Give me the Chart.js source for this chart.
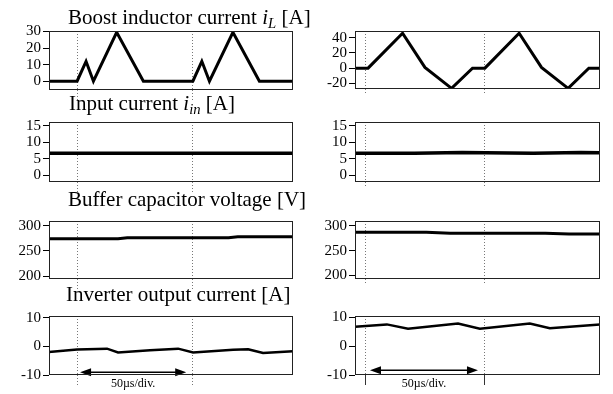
<!DOCTYPE html>
<html>
<head>
<meta charset="utf-8">
<script src="https://cdn.jsdelivr.net/npm/chart.js@4.4.0/dist/chart.umd.min.js"></script>
<style>
  body { margin: 0; background: #fff; width: 613px; height: 394px; overflow: hidden; position: relative; font-family: "Liberation Serif", serif; }
  canvas { position: absolute; }
  .titulo { position: absolute; font-size: 21px; line-height: 21px; white-space: nowrap; color: #000; }
  .titulo sub { font-size: 0.7em; vertical-align: -0.25em; line-height: 0; }
</style>
</head>
<body>
<canvas id="g1e"></canvas><canvas id="g1d"></canvas>
<canvas id="g2e"></canvas><canvas id="g2d"></canvas>
<canvas id="g3e"></canvas><canvas id="g3d"></canvas>
<canvas id="g4e"></canvas><canvas id="g4d"></canvas>

<div class="titulo" style="left:68px;top:7px">Boost inductor current <i>i<sub>L</sub></i> [A]</div>
<div class="titulo" style="left:69px;top:93px">Input current <i>i<sub>in</sub></i> [A]</div>
<div class="titulo" style="left:68px;top:189px">Buffer capacitor voltage [V]</div>
<div class="titulo" style="left:66px;top:284px">Inverter output current [A]</div>

<script>
// tempo em µs
const boostEsqT = [0, 12.2, 16.1, 19.3, 29.4, 41, 62.5, 66.4, 69.7, 79.9, 91.4, 106];
const boostEsqI = [0, 0, 12, 0, 29.5, 0, 0, 12, 0, 29.5, 0, 0];
const boostDirT = [0, 5.5, 20, 29.4, 40.6, 49.4, 54.6, 69, 78.4, 89.6, 98.3, 103];
const boostDirI = [0, 0, 46, 1, -26.6, 0, 0, 46, 1, -26.6, 0, 0];

const entradaEsqT = [0, 30, 60, 106];
const entradaEsqI = [6.7, 6.7, 6.7, 6.7];
const entradaDirT = [0, 25, 45, 75, 95, 103];
const entradaDirI = [6.7, 6.7, 6.9, 6.7, 6.9, 6.8];

const bufferEsqT = [0, 30, 34, 78, 82, 106];
const bufferEsqV = [274, 274, 276, 276, 278, 278];
const bufferDirT = [0, 30, 40, 80, 90, 103];
const bufferDirV = [287.5, 287.5, 285.5, 285.5, 284, 284];

const inversorEsqT = [0, 12.2, 25.2, 30, 43.9, 56.1, 62.6, 80, 86.5, 93, 106];
const inversorEsqI = [-2, -1.1, -0.8, -2.1, -1.4, -0.8, -2.1, -1.2, -1, -2.3, -1.7];
const inversorDirT = [0, 13.4, 22.3, 43.3, 52.5, 73.5, 81.9, 103];
const inversorDirI = [6.7, 7.5, 6, 7.8, 6, 7.8, 6.2, 7.5];

// ticks dos eixos
const ticksBoostEsq = [0, 10, 20, 30];
const ticksBoostDir = [-20, 0, 20, 40];
const ticksEntrada = [0, 5, 10, 15];
const ticksBuffer = [200, 250, 300];
const ticksInversor = [-10, 0, 10];

// linhas pontilhadas (divisões de 50µs)
const divisoesEsq = [12.2, 62.2];
const divisoesDir = [4.6, 54.6];
const setaEsq = [13.5, 59.6];
const setaDir = [6.3, 51.7];
const textoSeta = '50µs/div.';

// Moldura em volta da área do gráfico
const molduraPlugin = {
  id: 'moldura',
  afterDraw(chart) {
    const a = chart.chartArea;
    const ctx = chart.ctx;
    ctx.save();
    ctx.strokeStyle = '#222';
    ctx.lineWidth = 1;
    const l = Math.round(a.left) + 0.5, t = Math.round(a.top) + 0.5;
    const r = Math.round(a.right) - 0.5, b = Math.round(a.bottom) - 0.5;
    ctx.strokeRect(l, t, r - l, b - t);
    ctx.restore();
  }
};

// Seta de escala de tempo
const setaPlugin = {
  id: 'seta',
  afterDatasetsDraw(chart, args, opts) {
    if (!opts || !opts.de) return;
    const xs = chart.scales.x, ys = chart.scales.y;
    const x1 = xs.getPixelForValue(opts.de[0]);
    const x2 = xs.getPixelForValue(opts.de[1]);
    const y = ys.getPixelForValue(opts.y);
    const ctx = chart.ctx;
    ctx.save();
    ctx.strokeStyle = '#000';
    ctx.fillStyle = '#000';
    ctx.lineWidth = 1.5;
    ctx.beginPath();
    ctx.moveTo(x1 + 8, y);
    ctx.lineTo(x2 - 8, y);
    ctx.stroke();
    ctx.beginPath();
    ctx.moveTo(x1, y); ctx.lineTo(x1 + 11, y - 4); ctx.lineTo(x1 + 11, y + 4); ctx.closePath();
    ctx.moveTo(x2, y); ctx.lineTo(x2 - 11, y - 4); ctx.lineTo(x2 - 11, y + 4); ctx.closePath();
    ctx.fill();
    ctx.font = '12px "Liberation Serif"';
    ctx.textAlign = 'center';
    ctx.textBaseline = 'top';
    ctx.fillText(opts.texto, (x1 + x2) / 2, chart.chartArea.bottom + 3);
    ctx.restore();
  }
};

function criarGrafico(id, c) {
  const canvas = document.getElementById(id);
  const padTopo = 8;
  const alturaX = c.alturaX || 14;
  canvas.width = 300;
  canvas.height = padTopo + c.altura + alturaX;
  canvas.style.left = c.esq + 'px';
  canvas.style.top = (c.topo - padTopo) + 'px';

  return new Chart(canvas.getContext('2d'), {
    type: 'line',
    data: {
      datasets: [{
        data: c.t.map((t, i) => ({ x: t, y: c.v[i] })),
        borderColor: '#000',
        borderWidth: c.espessura || 3,
        pointRadius: 0,
        tension: 0,
        fill: false
      }]
    },
    options: {
      responsive: false,
      animation: false,
      events: [],
      layout: { padding: { top: padTopo, right: c.padDir, bottom: 0, left: 0 } },
      plugins: {
        legend: { display: false },
        tooltip: { enabled: false },
        seta: c.seta || {}
      },
      scales: {
        x: {
          type: 'linear',
          min: 0,
          max: c.tMax,
          afterBuildTicks: s => { s.ticks = c.divisoes.map(v => ({ value: v })); },
          afterFit: s => { s.height = alturaX; },
          ticks: { display: false },
          border: { display: false, dash: [1, 2] },
          grid: {
            color: '#777',
            lineWidth: 1,
            drawTicks: true,
            tickLength: c.tickX,
            tickBorderDash: c.tickDash,
            tickColor: c.tickCor || '#777'
          }
        },
        y: {
          min: c.yMin,
          max: c.yMax,
          afterBuildTicks: s => { s.ticks = c.ticks.map(v => ({ value: v })); },
          afterFit: s => { s.width = 49; },
          border: { display: false },
          grid: { drawOnChartArea: false, drawTicks: true, tickLength: 6, color: '#000' },
          ticks: {
            color: '#000',
            padding: 2,
            autoSkip: false,
            font: { family: 'Liberation Serif', size: 15 }
          }
        }
      }
    },
    plugins: [molduraPlugin, setaPlugin]
  });
}

const esq = { esq: 0, padDir: 7, tMax: 106, divisoes: divisoesEsq, tickX: 12, tickDash: [1, 2] };
const dir = { esq: 306, padDir: 6, tMax: 103, divisoes: divisoesDir, tickX: 4, tickDash: [1, 2] };

criarGrafico('g1e', { ...esq, topo: 28, altura: 62, t: boostEsqT, v: boostEsqI, yMin: -5.3, yMax: 30.3, ticks: ticksBoostEsq });
criarGrafico('g1d', { ...dir, topo: 28, altura: 61, t: boostDirT, v: boostDirI, yMin: -27.5, yMax: 49, ticks: ticksBoostDir });

criarGrafico('g2e', { ...esq, topo: 119, altura: 63, t: entradaEsqT, v: entradaEsqI, yMin: -2, yMax: 16.1, ticks: ticksEntrada, espessura: 3.5 });
criarGrafico('g2d', { ...dir, topo: 119, altura: 63, t: entradaDirT, v: entradaDirI, yMin: -2, yMax: 16.1, ticks: ticksEntrada, espessura: 3.5 });

criarGrafico('g3e', { ...esq, topo: 218, altura: 61, t: bufferEsqT, v: bufferEsqV, yMin: 194.3, yMax: 309.4, ticks: ticksBuffer });
criarGrafico('g3d', { ...dir, topo: 218, altura: 61, t: bufferDirT, v: bufferDirV, yMin: 193, yMax: 310, ticks: ticksBuffer });

criarGrafico('g4e', { ...esq, topo: 313, altura: 62, alturaX: 30, t: inversorEsqT, v: inversorEsqI, yMin: -10, yMax: 10.6, ticks: ticksInversor, espessura: 2.5,
  seta: { de: setaEsq, y: -9, texto: textoSeta } });
criarGrafico('g4d', { ...dir, topo: 313, altura: 62, alturaX: 30, t: inversorDirT, v: inversorDirI, yMin: -10, yMax: 10.4, ticks: ticksInversor, espessura: 2.5,
  tickX: 10, tickDash: [], tickCor: '#333', seta: { de: setaDir, y: -8.4, texto: textoSeta } });
</script>
</body>
</html>
